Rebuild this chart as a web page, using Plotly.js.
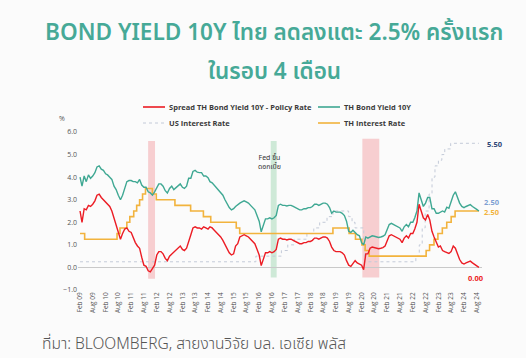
<!DOCTYPE html>
<html>
<head>
<meta charset="utf-8">
<script src="https://cdn.plot.ly/plotly-3.0.1.min.js"></script>
<style>
html,body{margin:0;padding:0;background:#fbfbfb;}
#chart{width:526px;height:358px;}
</style>
</head>
<body>
<div id="chart"></div>
<script>
// ---- DATA (monthly, starting Feb 2009) ----
const startYear = 2009, startMonth = 2, nMonths = 188;

const thBond10Y = [
  4.0, 3.6, 4.05, 3.8, 4.1, 3.95, 4.05, 4.2, 4.45, 4.5, 4.35, 4.3,
  4.15, 4.1, 4.0, 3.9, 3.6, 3.45, 3.2, 3.0, 3.2, 3.5, 3.8, 3.85,
  3.85, 3.8, 3.8, 3.75, 3.9, 3.65, 3.55, 3.55, 3.35, 3.3, 3.2, 3.35,
  3.55, 3.7, 3.7, 3.6, 3.4, 3.3, 3.5, 3.6, 3.45, 3.55, 3.6, 3.7,
  3.55, 3.5, 3.6, 3.95, 3.95, 4.25, 4.3, 4.22, 4.2, 4.2, 4.05, 4.05,
  3.98, 3.8, 3.75, 3.65, 3.55, 3.45, 3.35, 3.2, 3.0, 2.8, 2.65, 2.55,
  2.6, 2.7, 2.8, 2.85, 2.9, 2.95, 2.9, 2.85, 2.75, 2.65, 2.55, 2.3,
  2.05, 1.58, 1.9, 2.15, 2.15, 2.2, 2.15, 2.2, 2.3, 2.75, 2.8, 2.75,
  2.75, 2.72, 2.75, 2.75, 2.7, 2.65, 2.6, 2.55, 2.55, 2.6, 2.6, 2.65,
  2.65, 2.7, 2.8, 2.8, 2.75, 2.8, 2.85, 2.85, 2.8, 2.65, 2.4, 2.5,
  2.45, 2.45, 2.45, 2.4, 2.3, 2.05, 1.6, 1.55, 1.65, 1.55, 1.45, 1.4,
  1.1, 1.0, 1.35, 1.3, 1.35, 1.4, 1.38, 1.35, 1.33, 1.35, 1.38, 1.45,
  1.65, 1.9, 1.95, 1.9, 1.85, 1.8, 1.75, 1.6, 1.8, 1.9, 1.8, 2.0,
  2.0, 2.2, 2.5, 3.3, 3.0, 2.7, 2.85, 3.1, 3.1, 2.6, 2.6, 2.4,
  2.4, 2.45, 2.5, 2.45, 2.67, 2.62, 2.95, 3.2, 3.35, 3.05, 2.85, 2.7,
  2.65, 2.7, 2.75, 2.78, 2.7, 2.62, 2.57, 2.5
];

const spreadBondPolicy = [
  2.5, 2.0, 2.6, 2.55, 2.75, 2.7, 2.8, 2.95, 3.2, 3.25, 3.1, 3.0,
  2.9, 2.8, 2.7, 2.5, 2.2, 1.9, 1.6, 1.25, 1.5, 1.7, 1.75, 1.6,
  1.55, 1.3, 1.1, 0.95, 0.85, 0.45, 0.1, 0.05, -0.15, -0.2, -0.05, 0.1,
  0.55, 0.7, 0.7, 0.6, 0.4, 0.3, 0.5, 0.6, 0.7, 0.8, 0.85, 0.95,
  0.8, 0.75, 0.85, 1.2, 1.45, 1.75, 1.8, 1.75, 1.75, 1.7, 1.8, 1.75,
  1.7, 1.8, 1.75, 1.65, 1.55, 1.45, 1.35, 1.2, 1.0, 0.8, 0.65, 0.55,
  0.6, 0.95, 1.05, 1.35, 1.4, 1.45, 1.4, 1.35, 1.25, 1.15, 1.05, 0.8,
  0.55, 0.08, 0.4, 0.65, 0.65, 0.7, 0.65, 0.7, 0.8, 1.25, 1.3, 1.25,
  1.25, 1.22, 1.25, 1.25, 1.2, 1.15, 1.1, 1.05, 1.05, 1.1, 1.1, 1.15,
  1.15, 1.2, 1.3, 1.3, 1.25, 1.3, 1.35, 1.35, 1.3, 1.15, 0.9, 0.75,
  0.7, 0.7, 0.7, 0.65, 0.55, 0.3, 0.1, 0.05, 0.15, 0.3, 0.2, 0.15,
  0.1, -0.1, 0.6, 0.6, 0.85, 0.9, 0.88, 0.85, 0.83, 0.85, 0.88, 0.95,
  1.15, 1.4, 1.45, 1.4, 1.35, 1.3, 1.25, 1.1, 1.3, 1.4, 1.3, 1.5,
  1.5, 1.7, 2.0, 2.8, 2.5, 2.2, 2.1, 2.35, 2.1, 1.6, 1.35, 1.15,
  0.9, 0.95, 0.75, 0.7, 0.67, 0.62, 0.7, 0.95, 0.85, 0.55, 0.35, 0.2,
  0.15, 0.2, 0.25, 0.28, 0.2, 0.12, 0.07, 0.0
];

// Thai policy rate (change dates)
const thRateDates = ['2009-02-01','2009-04-08','2010-07-14','2010-08-25','2010-12-01','2011-01-12','2011-03-09','2011-04-20','2011-06-01','2011-07-13','2011-08-24','2011-11-30','2012-01-25','2012-10-17','2013-05-29','2013-11-27','2014-03-12','2015-03-11','2015-04-29','2018-12-19','2019-08-07','2019-11-06','2020-02-05','2020-03-23','2020-05-20','2022-08-10','2022-09-28','2022-11-30','2023-01-25','2023-03-29','2023-05-31','2023-08-02','2023-09-27','2024-09-01'];
const thRates = [1.50,1.25,1.50,1.75,2.00,2.25,2.50,2.75,3.00,3.25,3.50,3.25,3.00,2.75,2.50,2.25,2.00,1.75,1.50,1.75,1.50,1.25,1.00,0.75,0.50,0.75,1.00,1.25,1.50,1.75,2.00,2.25,2.50,2.50];

// US policy rate (upper bound, change dates)
const usRateDates = ['2009-02-01','2015-12-16','2016-12-14','2017-03-15','2017-06-14','2017-12-13','2018-03-21','2018-06-13','2018-09-26','2018-12-19','2019-07-31','2019-09-18','2019-10-30','2020-03-03','2020-03-15','2022-03-16','2022-05-04','2022-06-15','2022-07-27','2022-09-21','2022-11-02','2022-12-14','2023-02-01','2023-03-22','2023-05-03','2023-07-26','2024-09-01'];
const usRates = [0.25,0.50,0.75,1.00,1.25,1.50,1.75,2.00,2.25,2.50,2.25,2.00,1.75,1.25,0.25,0.50,1.00,1.75,2.50,3.25,4.00,4.50,4.75,5.00,5.25,5.50,5.50];

// highlighted periods
const bandStart = ['2011-10-01','2016-07-15','2020-02-12'];
const bandEnd   = ['2012-01-07','2016-10-07','2020-10-10'];
const bandLow   = [-0.5,-0.45,-0.45];
const bandHigh  = [5.6,5.6,5.7];
const bandKind  = ['red','green','red'];

const tickYears = [];
for (let y = 2009; y <= 2024; y++) tickYears.push(y);

// ---- build ----
function pad(n){return (n<10?'0':'')+n;}
const months = [];
for (let i = 0; i < nMonths; i++) {
  const m0 = startMonth - 1 + i;
  const y = startYear + Math.floor(m0 / 12);
  const m = (m0 % 12) + 1;
  months.push(y + '-' + pad(m) + '-01');
}
const tickvals = [];
tickYears.forEach(y => { tickvals.push(y + '-02-01'); tickvals.push(y + '-08-01'); });

const W = 526, H = 358, L = 78, R = 44, T = 132, B = 68;
const PW = W - L - R, PH = H - T - B;
const px = X => (X - L) / PW;
const py = Y => (H - B - Y) / PH;

const FONT = '"Open Sans", "Noto Sans", "Noto Sans Thai", sans-serif';
const THAI = '"Noto Sans Thai", "Noto Sans Thai UI", Loma, Garuda, "Noto Sans", "DejaVu Sans", sans-serif';

const traces = [
  {x: usRateDates, y: usRates, type: 'scatter', mode: 'lines', line: {shape: 'hv', color: '#c3cad8', width: 1, dash: 'dot'}, hoverinfo: 'skip'},
  {x: thRateDates, y: thRates, type: 'scatter', mode: 'lines', line: {shape: 'hv', color: '#f2b33d', width: 1.6}, hoverinfo: 'skip'},
  {x: months, y: thBond10Y, type: 'scatter', mode: 'lines', line: {color: '#3fa893', width: 1.4}, hoverinfo: 'skip'},
  {x: months, y: spreadBondPolicy, type: 'scatter', mode: 'lines', line: {color: '#ec1c24', width: 1.4}, hoverinfo: 'skip'}
];

const shapes = [];
bandStart.forEach((s, i) => {
  shapes.push({type: 'rect', xref: 'x', yref: 'y', x0: s, x1: bandEnd[i], y0: bandLow[i], y1: bandHigh[i],
    fillcolor: bandKind[i] === 'red' ? 'rgba(242,150,155,0.45)' : 'rgba(150,210,170,0.45)', line: {width: 0}, layer: 'below'});
});
// legend samples
const legendItems = [
  {X: 143, Y: 107, color: '#ec1c24', dash: 'solid', w: 1.6, text: 'Spread TH Bond Yield 10Y - Policy Rate'},
  {X: 318, Y: 107, color: '#3fa893', dash: 'solid', w: 1.6, text: 'TH Bond Yield 10Y'},
  {X: 143, Y: 123, color: '#c3cad8', dash: 'dot', w: 1, text: 'US Interest Rate'},
  {X: 318, Y: 123, color: '#f2b33d', dash: 'solid', w: 1.6, text: 'TH Interest Rate'}
];
const annotations = [];
legendItems.forEach(it => {
  shapes.push({type: 'line', xref: 'paper', yref: 'paper', x0: px(it.X), x1: px(it.X + 22), y0: py(it.Y), y1: py(it.Y), line: {color: it.color, width: it.w, dash: it.dash}});
  annotations.push({xref: 'paper', yref: 'paper', x: px(it.X + 24), y: py(it.Y), xanchor: 'left', yanchor: 'middle', showarrow: false,
    text: '<b>' + it.text + '</b>', font: {family: FONT, size: 7.5, color: '#3a3a3a'}});
});

// titles
annotations.push({xref: 'paper', yref: 'paper', x: px(274), y: py(33), xanchor: 'center', yanchor: 'middle', showarrow: false,
  text: 'BOND YIELD 10Y ไทย ลดลงแตะ 2.5% ครั้งแรก', font: {family: THAI, size: 22.5, weight: 600, color: '#46a997'}});
annotations.push({xref: 'paper', yref: 'paper', x: px(274), y: py(72), xanchor: 'center', yanchor: 'middle', showarrow: false,
  text: 'ในรอบ 4 เดือน', font: {family: THAI, size: 22.5, weight: 600, color: '#46a997'}});
// source
annotations.push({xref: 'paper', yref: 'paper', x: px(40), y: py(344), xanchor: 'left', yanchor: 'middle', showarrow: false,
  text: 'ที่มา: BLOOMBERG, สายงานวิจัย บล. เอเซีย พลัส', font: {family: THAI, size: 15.5, weight: 300, color: '#555555'}});
// % unit
annotations.push({xref: 'paper', yref: 'paper', x: px(62), y: py(118), xanchor: 'center', yanchor: 'middle', showarrow: false,
  text: '%', font: {family: FONT, size: 7, color: '#555555'}});
// Fed note
annotations.push({xref: 'paper', yref: 'paper', x: px(269), y: py(162), xanchor: 'center', yanchor: 'middle', showarrow: false,
  text: 'Fed ขึ้น<br>ดอกเบี้ย', font: {family: THAI, size: 7, color: '#333333'}});
// end labels
const endLabels = [
  {X: 495, Y: 144, text: '5.50', color: '#2e4677'},
  {X: 492, Y: 202, text: '2.50', color: '#7d9fd3'},
  {X: 492, Y: 212, text: '2.50', color: '#f2b33d'},
  {X: 476, Y: 278, text: '0.00', color: '#ec1c24'}
];
endLabels.forEach(e => annotations.push({xref: 'paper', yref: 'paper', x: px(e.X), y: py(e.Y), xanchor: 'center', yanchor: 'middle', showarrow: false,
  text: '<b>' + e.text + '</b>', font: {family: FONT, size: 7.5, color: e.color}}));

const layout = {
  width: W, height: H,
  margin: {l: L, r: R, t: T, b: B, pad: 0},
  paper_bgcolor: '#fbfbfb', plot_bgcolor: 'rgba(0,0,0,0)',
  showlegend: false,
  xaxis: {
    type: 'date', range: ['2009-01-03', '2024-10-15'],
    tickmode: 'array', tickvals: tickvals, tickformat: '%b %y', tickangle: -90,
    showgrid: false, zeroline: false, showline: false, ticks: '',
    tickfont: {family: FONT, size: 6.5, color: '#555555'}, fixedrange: true
  },
  yaxis: {
    range: [-1, 6], dtick: 1, tickformat: '.1f', showgrid: false,
    zeroline: true, zerolinecolor: '#c9c9c9', zerolinewidth: 1, showline: false, ticks: '',
    tickfont: {family: FONT, size: 7, color: '#555555'}, fixedrange: true
  },
  shapes: shapes,
  annotations: annotations
};

Plotly.newPlot('chart', traces, layout, {displayModeBar: false, staticPlot: true});
</script>
</body>
</html>
